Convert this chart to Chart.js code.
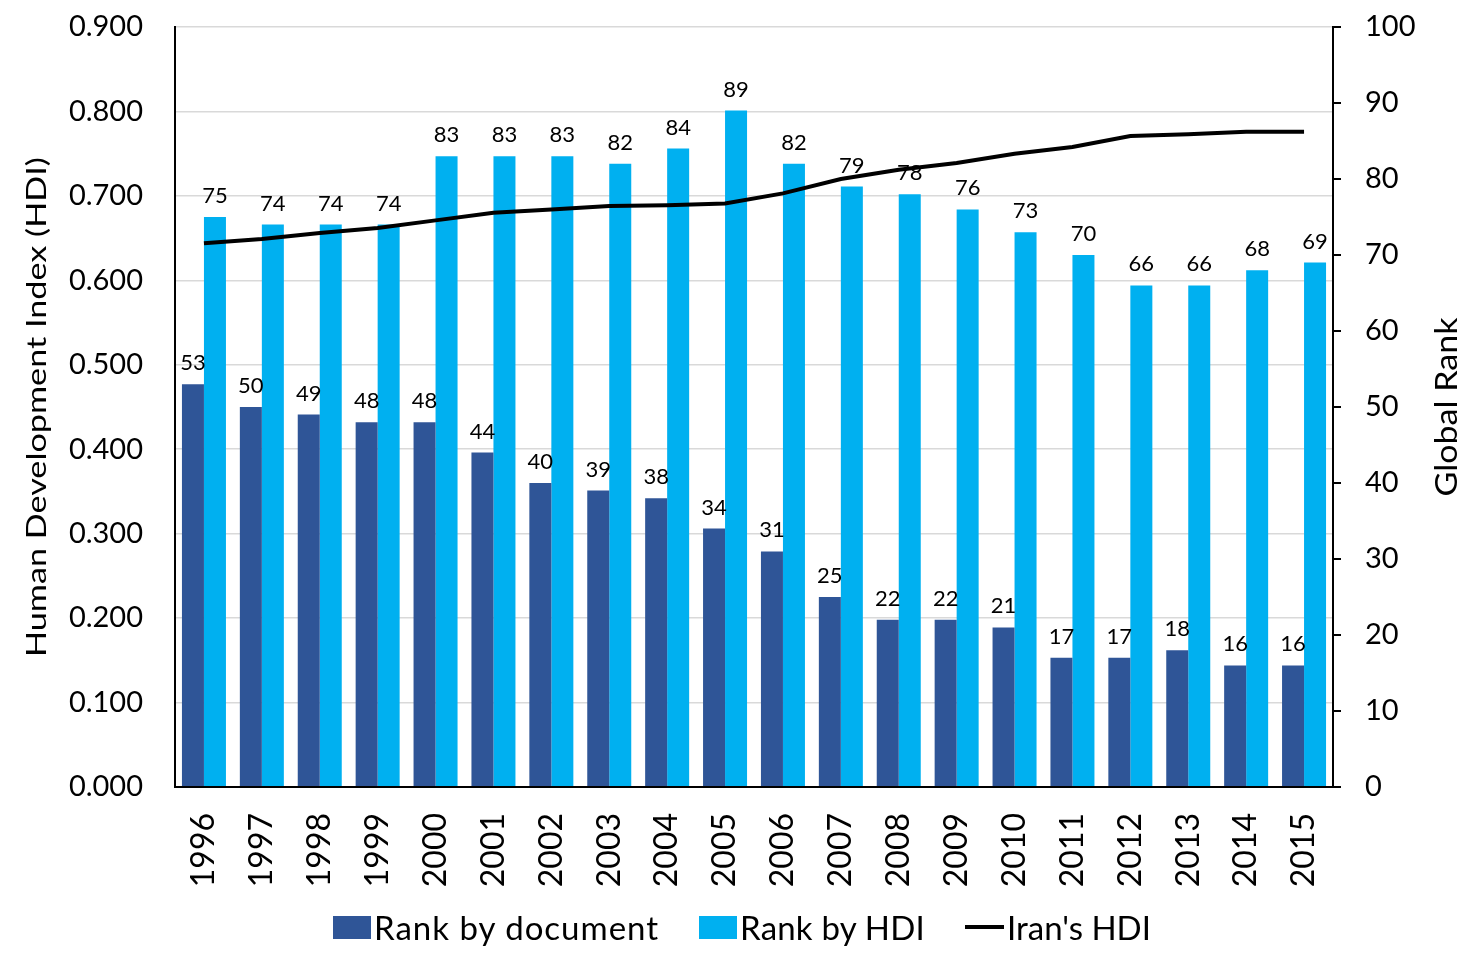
<!DOCTYPE html>
<html>
<head>
<meta charset="utf-8">
<script src="https://cdn.jsdelivr.net/npm/chart.js@4.4.0/dist/chart.umd.min.js"></script>
<style>
  html, body { margin: 0; padding: 0; background: #fff; }
  #wrap { position: relative; width: 1473px; height: 958px; font-family: Lato, sans-serif; }
  .lg { position: absolute; top: 907px; height: 40px; line-height: 40px; font-size: 33px; color: #000; white-space: nowrap; }
  .sw { position: absolute; width: 38px; height: 23px; top: 9px; }
  .ln { position: absolute; width: 39px; height: 4px; top: 18px; background: #000; }
</style>
</head>
<body>
<div id="wrap">
  <canvas id="c" width="1473" height="958"></canvas>
  <div class="lg" style="left:333px;"><span class="sw" style="left:0;background:#2F5597"></span><span style="margin-left:41px;letter-spacing:1px">Rank by document</span></div>
  <div class="lg" style="left:699px;"><span class="sw" style="left:0;background:#00B0F0"></span><span style="margin-left:41px;letter-spacing:0.2px">Rank by HDI</span></div>
  <div class="lg" style="left:965px;"><span class="ln" style="left:0"></span><span style="margin-left:42px">Iran's HDI</span></div>
</div>
<script>
// values
const years = ['1996','1997','1998','1999','2000','2001','2002','2003','2004','2005',
               '2006','2007','2008','2009','2010','2011','2012','2013','2014','2015'];
const rankByDocument = [53, 50, 49, 48, 48, 44, 40, 39, 38, 34, 31, 25, 22, 22, 21, 17, 17, 18, 16, 16];
const rankByHdi = [75, 74, 74, 74, 83, 83, 83, 82, 84, 89, 82, 79, 78, 76, 73, 70, 66, 66, 68, 69];
const iranHdi = [0.644, 0.649, 0.656, 0.662, 0.671, 0.680, 0.684, 0.688, 0.689, 0.691,
                 0.703, 0.720, 0.731, 0.739, 0.750, 0.758, 0.771, 0.773, 0.776, 0.776];

const FONT = 'Lato';

// numbers above the bars
const barLabels = {
  id: 'barLabels',
  afterDatasetsDraw(chart) {
    const ctx = chart.ctx;
    ctx.save();
    ctx.font = '22px ' + FONT;
    ctx.fillStyle = '#000';
    ctx.textAlign = 'center';
    ctx.textBaseline = 'alphabetic';
    chart.data.datasets.forEach((ds, i) => {
      if (ds.type !== 'bar') return;
      chart.getDatasetMeta(i).data.forEach((bar, j) => {
        ctx.fillText(ds.data[j], bar.x, bar.y - 14);
      });
    });
    ctx.restore();
  }
};

// rotated axis titles, read bottom-to-top, stretched to the length they have in the picture
function drawVertical(ctx, text, cx, cy, size, length) {
  ctx.save();
  ctx.font = size + 'px ' + FONT;
  const w = ctx.measureText(text).width;
  ctx.translate(cx, cy);
  ctx.rotate(-Math.PI / 2);
  ctx.scale(length / w, 1);
  ctx.fillStyle = '#000';
  ctx.textAlign = 'center';
  ctx.textBaseline = 'middle';
  ctx.fillText(text, 0, 0);
  ctx.restore();
}

const axisTitles = {
  id: 'axisTitles',
  afterDraw(chart) {
    const area = chart.chartArea;
    const mid = (area.top + area.bottom) / 2;
    drawVertical(chart.ctx, 'Human Development Index (HDI)', 38, mid, 26, 500);
    drawVertical(chart.ctx, 'Global Rank', 1447, mid, 31, 179);
  }
};

new Chart(document.getElementById('c'), {
  data: {
    labels: years,
    datasets: [
      {
        type: 'line',
        label: "Iran's HDI",
        data: iranHdi,
        yAxisID: 'yHdi',
        borderColor: '#000',
        borderWidth: 4,
        pointRadius: 0,
        tension: 0,
        order: 0
      },
      {
        type: 'bar',
        label: 'Rank by document',
        data: rankByDocument,
        yAxisID: 'yRank',
        backgroundColor: '#2F5597',
        barPercentage: 1.0,
        categoryPercentage: 0.76,
        order: 1
      },
      {
        type: 'bar',
        label: 'Rank by HDI',
        data: rankByHdi,
        yAxisID: 'yRank',
        backgroundColor: '#00B0F0',
        barPercentage: 1.0,
        categoryPercentage: 0.76,
        order: 1
      }
    ]
  },
  options: {
    responsive: false,
    animation: false,
    layout: { padding: { left: 0, right: 0, top: 27, bottom: 61 } },
    plugins: {
      legend: { display: false },
      tooltip: { enabled: false }
    },
    scales: {
      x: {
        offset: true,
        grid: { display: false },
        border: { display: true, color: '#000', width: 2 },
        ticks: {
          color: '#000',
          font: { family: FONT, size: 32 },
          minRotation: 90,
          maxRotation: 90,
          padding: 18,
          autoSkip: false
        },
        afterFit(scale) { scale.height = 110; }
      },
      yHdi: {
        position: 'left',
        min: 0,
        max: 0.9,
        grid: { color: '#D9D9D9', lineWidth: 1.5, drawTicks: false },
        border: { display: true, color: '#000', width: 2 },
        ticks: {
          stepSize: 0.1,
          color: '#000',
          padding: 32,
          font: { family: FONT, size: 29 },
          callback: v => v.toFixed(3)
        },
        afterFit(scale) {
          scale.width = 175;
          scale.paddingTop = 15;
          scale.paddingBottom = 15;
        }
      },
      yRank: {
        position: 'right',
        min: 0,
        max: 100,
        grid: { drawOnChartArea: false, color: '#000', lineWidth: 2, tickLength: 8 },
        border: { display: true, color: '#000', width: 2 },
        ticks: {
          stepSize: 10,
          color: '#000',
          padding: 24,
          font: { family: FONT, size: 29 }
        },
        afterFit(scale) {
          scale.width = 140;
          scale.paddingTop = 15;
          scale.paddingBottom = 15;
        }
      }
    }
  },
  plugins: [barLabels, axisTitles]
});
</script>
</body>
</html>
